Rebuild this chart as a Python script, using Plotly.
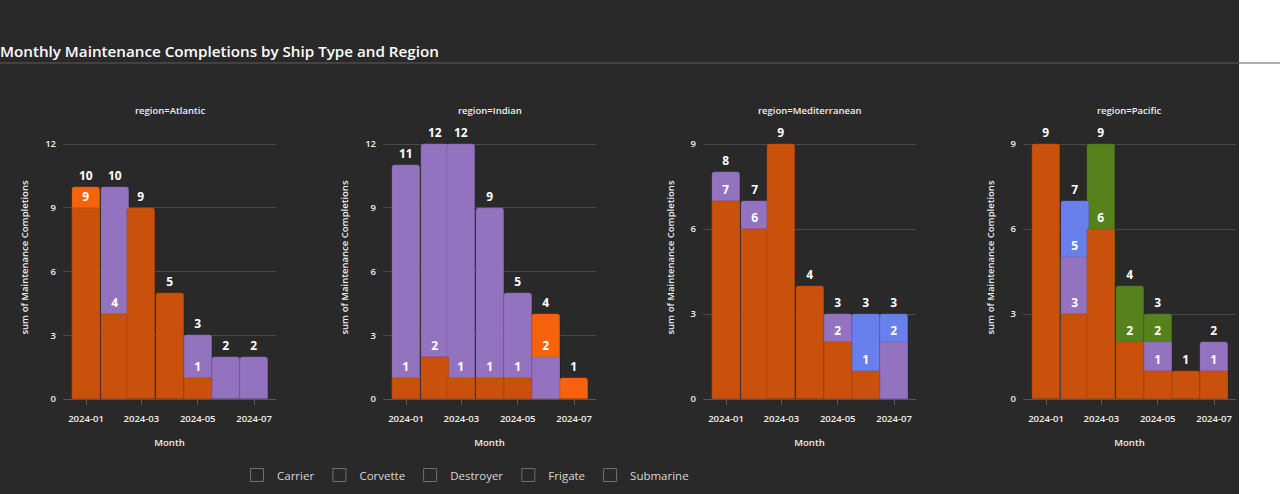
import plotly.graph_objects as go
from plotly.subplots import make_subplots

# ---------------- data ----------------
months = ["2024-01-01", "2024-02-01", "2024-03-01", "2024-04-01",
          "2024-05-01", "2024-06-01", "2024-07-01"]
regions = ["Atlantic", "Indian", "Mediterranean", "Pacific"]
ship_types = ["Carrier", "Corvette", "Destroyer", "Frigate", "Submarine"]
N = None

atlantic = {
    "Carrier":   [10, N, N, N, N, N, N],
    "Corvette":  [N, N, N, N, N, N, N],
    "Destroyer": [N, N, N, N, N, N, N],
    "Frigate":   [N, 10, N, N, 3, 2, 2],
    "Submarine": [9, 4, 9, 5, 1, N, N],
}
indian = {
    "Carrier":   [N, N, N, N, N, 4, 1],
    "Corvette":  [N, N, N, N, N, N, N],
    "Destroyer": [N, N, N, N, N, N, N],
    "Frigate":   [11, 12, 12, 9, 5, 2, N],
    "Submarine": [1, 2, 1, 1, 1, N, N],
}
mediterranean = {
    "Carrier":   [N, N, N, N, N, N, N],
    "Corvette":  [N, N, N, N, N, N, N],
    "Destroyer": [N, N, N, N, N, 3, 3],
    "Frigate":   [8, 7, N, N, 3, N, 2],
    "Submarine": [7, 6, 9, 4, 2, 1, N],
}
pacific = {
    "Carrier":   [N, N, N, N, N, N, N],
    "Corvette":  [N, N, 9, 4, 3, N, N],
    "Destroyer": [N, 7, N, N, N, N, N],
    "Frigate":   [N, 5, N, N, 2, N, 2],
    "Submarine": [9, 3, 6, 2, 1, 1, 1],
}
region_data = [atlantic, indian, mediterranean, pacific]
y_top_tick = [12, 12, 9, 9]

# ---------------- style ----------------
colors = {
    "Carrier": "#F7630C",
    "Corvette": "#56821D",
    "Destroyer": "#6880EC",
    "Frigate": "#9373BF",
    "Submarine": "#C9510C",
}
BG = "#292929"
GRID = "#4a4a4a"
FONT = "Open Sans, Noto Sans, sans-serif"

W, H = 1280, 494
L, R, T, B = 63, 44, 116, 95
PW, PH = W - L - R, H - T - B
DARK_W = 1239
COL_W, GAP = 213, 107

fig = make_subplots(rows=1, cols=4, horizontal_spacing=GAP / PW,
                    subplot_titles=[f"region={r}" for r in regions])

bar_width_ms = 30.4 * 86400000

for ci, data in enumerate(region_data):
    for t in ship_types:
        fig.add_trace(go.Bar(
            x=months, y=data[t], name=t, legendgroup=t, showlegend=False,
            width=bar_width_ms,
            marker=dict(color=colors[t], cornerradius=3,
                        line=dict(color="rgba(0,0,0,0.25)", width=0.4)),
            texttemplate="%{y}", textposition="outside",
            outsidetextfont=dict(color="#ffffff", size=12, family=FONT, weight="bold"),
            cliponaxis=False,
        ), row=1, col=ci + 1)

# legend-only entries (hollow squares)
for t in ship_types:
    fig.add_trace(go.Scatter(
        x=[None], y=[None], mode="markers", name=t, legendgroup=t,
        marker=dict(symbol="square-open", size=13, color="#707070",
                    line=dict(width=1)),
        showlegend=True, hoverinfo="skip",
    ), row=1, col=1)

for ci in range(4):
    top = y_top_tick[ci] * PH / (399 - 144)
    fig.update_yaxes(
        range=[0, top], dtick=3, tick0=0, showgrid=True, gridcolor=GRID,
        gridwidth=1, zeroline=True, zerolinecolor="#555555", zerolinewidth=1,
        showline=False, ticks="", ticklabelstandoff=6,
        tickfont=dict(color="#f0f0f0", size=9.5, family=FONT, weight=600),
        title=dict(text="sum of Maintenance Completions", standoff=14,
                   font=dict(color="#f0f0f0", size=9.5, family=FONT, weight=600)),
        row=1, col=ci + 1)
    fig.update_xaxes(
        type="date", range=["2023-12-07 02:00", "2024-07-24 19:00"],
        tickformat="%Y-%m", dtick="M2", tick0="2024-01-01",
        ticks="outside", ticklen=5, tickcolor="#5a5a5a", showgrid=False,
        showline=False, zeroline=False, ticklabelstandoff=6,
        tickfont=dict(color="#f0f0f0", size=9.5, family=FONT, weight=600),
        title=dict(text="Month", standoff=14,
                   font=dict(color="#f0f0f0", size=9.5, family=FONT, weight=600)),
        row=1, col=ci + 1)

for ann in fig.layout.annotations:
    ann.font = dict(color="#f0f0f0", size=9.5, family=FONT, weight=600)
    ann.yshift = -3

fig.add_shape(type="rect", xref="paper", yref="paper", layer="below",
              x0=-L / PW, x1=(DARK_W - L) / PW, y0=-B / PH, y1=1 + T / PH,
              fillcolor=BG, line=dict(width=0))
line_y = (H - B - 63) / PH
fig.add_shape(type="line", xref="paper", yref="paper", layer="above",
              x0=-L / PW, x1=(W - L) / PW, y0=line_y, y1=line_y,
              line=dict(color="#5c5c5c", width=1))

fig.update_layout(
    width=W, height=H, autosize=False,
    margin=dict(l=L, r=R, t=T, b=B, pad=0, autoexpand=False),
    paper_bgcolor="#ffffff", plot_bgcolor="rgba(0,0,0,0)",
    barmode="overlay", bargap=0,
    font=dict(family=FONT, color="#f0f0f0"),
    title=dict(text="Monthly Maintenance Completions by Ship Type and Region",
               x=0, xref="container", xanchor="left",
               y=1 - 52 / H, yref="container", yanchor="middle",
               font=dict(size=15.2, color="#ffffff", family=FONT, weight=600)),
    legend=dict(orientation="h", x=(237 - L) / PW, xanchor="left",
                y=-(475 - (H - B)) / PH, yanchor="middle",
                bgcolor="rgba(0,0,0,0)",
                font=dict(size=11.5, color="#d8d8d8", family=FONT)),
    showlegend=True,
)

fig.write_html("out.html", config={"displayModeBar": False},
               post_script="document.body.style.margin='0';")
